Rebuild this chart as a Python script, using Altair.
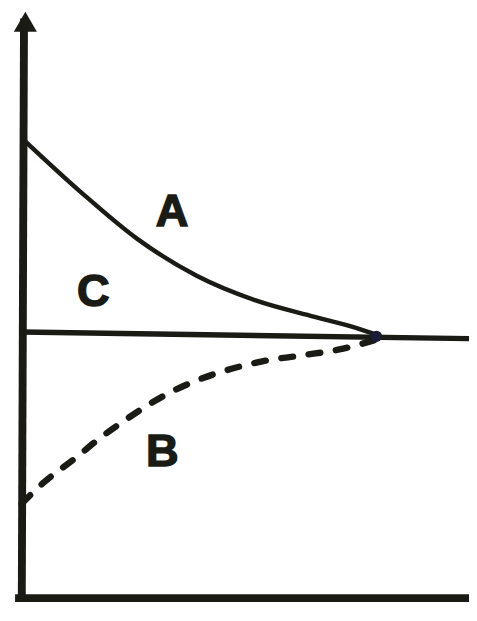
import altair as alt
import pandas as pd

# Curve A (solid, decaying toward the baseline)
a_x = [0.0, 1.32, 2.59, 3.91, 5.23, 6.55, 7.49, 7.93]
a_y = [5.97, 4.33, 2.9, 1.79, 1.04, 0.54, 0.2, 0.0]

# Curve B (dashed, rising toward the baseline)
b_x = [0.0, 0.5, 1.16, 1.76, 2.37, 2.99, 5.38, 6.26, 7.1, 7.93]
b_y = [-5.13, -4.48, -3.79, -3.13, -2.54, -2.0, -0.81, -0.63, -0.45, -0.15]

# Baseline C
c_x = [0.0, 10.0]
c_y = [0.08, -0.12]

# Meeting point
dot_x = [7.93]
dot_y = [-0.05]

# Axes
yaxis_x = [0.0, 0.05]
yaxis_y = [-8.05, 9.6]
xaxis_x = [-0.15, 10.0]
xaxis_y = [-8.0, -8.0]
arrow_x = [0.08]
arrow_y = [9.5]

# Labels
labels = ["A", "C", "B"]
label_x = [3.36, 1.6, 3.14]
label_y = [3.73, 1.28, -3.58]

INK = "#1b1b16"
xs = alt.Scale(domain=[-0.308, 10.0], nice=False, zero=False)
ys = alt.Scale(domain=[-8.537, 9.761], nice=False, zero=False)

def line_layer(xv, yv, **kw):
    df = pd.DataFrame({"x": xv, "y": yv, "o": range(len(xv))})
    return alt.Chart(df).mark_line(color=INK, **kw).encode(
        x=alt.X("x:Q", scale=xs, axis=None),
        y=alt.Y("y:Q", scale=ys, axis=None),
        order="o:Q",
    )

curve_a = line_layer(a_x, a_y, strokeWidth=4.5, interpolate="monotone")
curve_b = line_layer(b_x, b_y, strokeWidth=6.5, interpolate="monotone",
                     strokeDash=[12, 16], strokeCap="round")
base_c = line_layer(c_x, c_y, strokeWidth=5.5)
y_axis = line_layer(yaxis_x, yaxis_y, strokeWidth=8)
x_axis = line_layer(xaxis_x, xaxis_y, strokeWidth=8)

arrow = alt.Chart(pd.DataFrame({"x": arrow_x, "y": arrow_y})).mark_point(
    shape="triangle-up", filled=True, color=INK, size=550, opacity=1
).encode(x=alt.X("x:Q", scale=xs, axis=None), y=alt.Y("y:Q", scale=ys, axis=None))

dot = alt.Chart(pd.DataFrame({"x": dot_x, "y": dot_y})).mark_point(
    shape="circle", filled=True, color="#1c1c3a", size=130, opacity=1
).encode(x=alt.X("x:Q", scale=xs, axis=None), y=alt.Y("y:Q", scale=ys, axis=None))

text = alt.Chart(pd.DataFrame({"x": label_x, "y": label_y, "t": labels})).mark_text(
    font="Liberation Sans", fontWeight=900, fontSize=46, color=INK,
    stroke=INK, strokeWidth=1.5, align="center", baseline="middle"
).encode(x=alt.X("x:Q", scale=xs, axis=None), y=alt.Y("y:Q", scale=ys, axis=None), text="t:N")

chart = alt.layer(y_axis, x_axis, arrow, base_c, curve_a, curve_b, dot, text).properties(
    width=469, height=613, padding=0, autosize="none"
).configure_view(stroke=None)

chart.save("out.html", embed_options={"renderer": "svg", "actions": False})
